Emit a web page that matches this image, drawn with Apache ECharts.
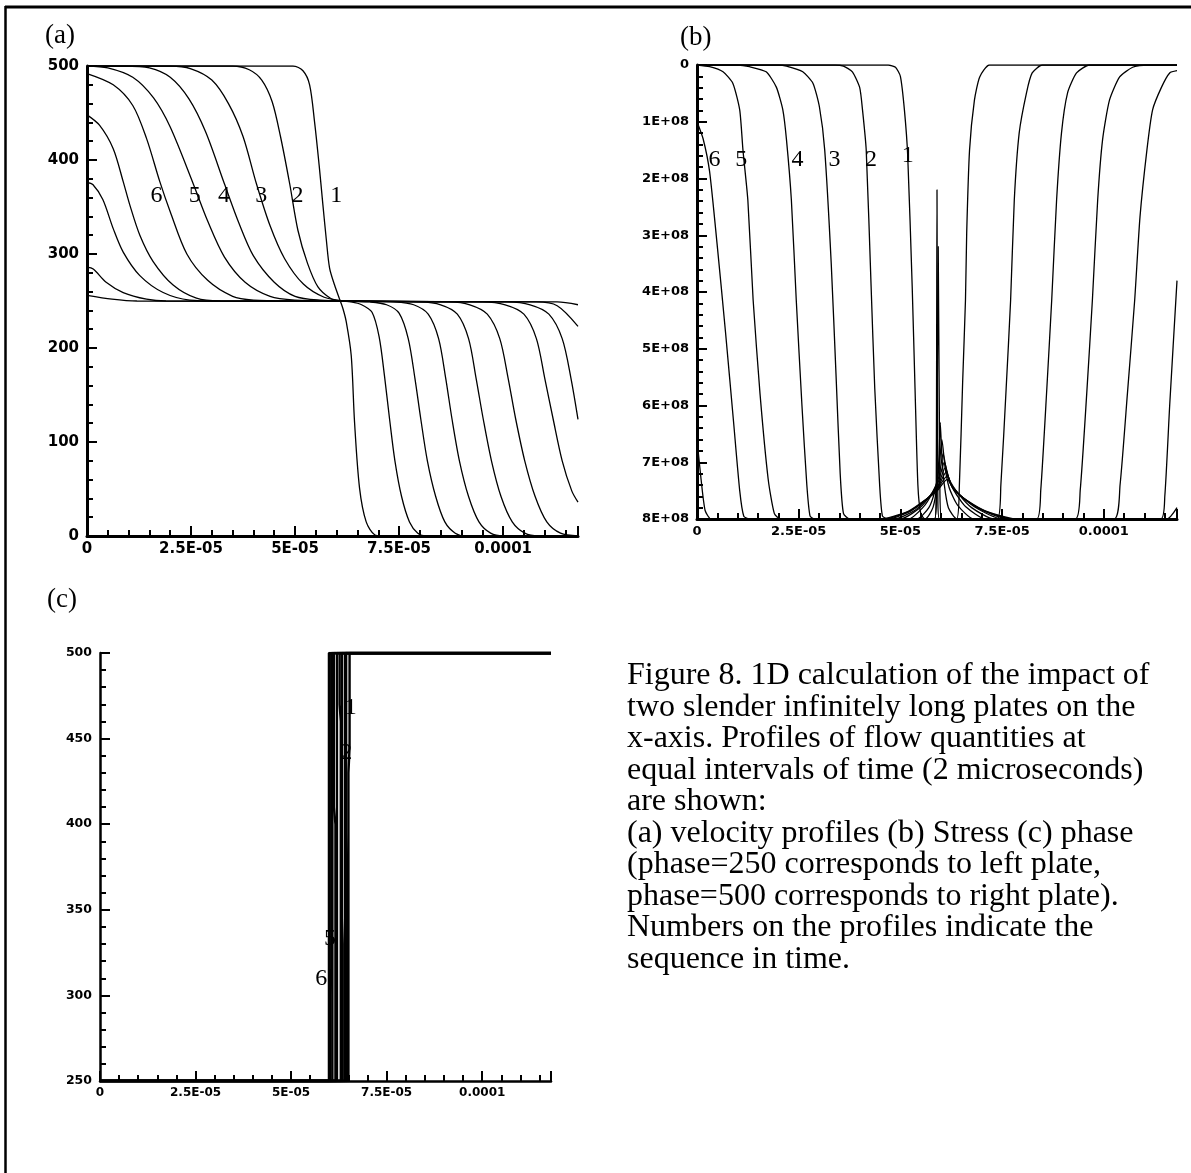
<!DOCTYPE html>
<html>
<head>
<meta charset="utf-8">
<script src="https://cdn.jsdelivr.net/npm/echarts@6.0.0/dist/echarts.min.js"></script>
<style>
  html, body { margin: 0; padding: 0; background: #fff; }
  #chart { width: 1191px; height: 1173px; }
</style>
</head>
<body>
<div id="chart"></div>
<script>
// x positions are stored in units of 1e-5 (axis labels show the real values)
const xMax = 11.8;
const xTickValues = [0, 2.5, 5, 7.5, 10];
const xTickText = ['0', '2.5E-05', '5E-05', '7.5E-05', '0.0001'];
// stress values are stored in units of 1E+08
const stressTickText = ['0', '1E+08', '2E+08', '3E+08', '4E+08', '5E+08', '6E+08', '7E+08', '8E+08'];

// (a) velocity profiles, curve 1 = earliest
const velC1 = [[0,500],[4.95,500],[5.19,495],[5.35,480],[5.47,440],[5.58,394],[5.67,352],[5.75,316],[5.83,285],[5.95,267],[6.07,252],[6.15,242],[6.23,228],[6.35,192],[6.43,121],[6.55,51],[6.71,15],[6.92,1],[7.1,0],[11.8,0]];
const velC2 = [[0,500],[3.5,500],[3.9,496],[4.2,485],[4.45,462],[4.65,425],[4.87,375],[5.07,325],[5.3,290],[5.55,265],[5.85,253],[6.1,250],[6.35,249],[6.6,246],[6.85,238],[7.02,212],[7.15,170],[7.27,125],[7.4,80],[7.56,42],[7.75,15],[7.95,3],[8.15,0],[11.8,0]];
const velC3 = [[0,500],[2.0,500],[2.5,497],[3.0,485],[3.4,460],[3.75,425],[4.07,375],[4.4,330],[4.75,295],[5.2,268],[5.7,254],[6.2,250],[6.8,249],[7.2,246],[7.5,237],[7.72,210],[7.88,168],[8.02,125],[8.18,80],[8.38,42],[8.6,15],[8.85,3],[9.1,0],[11.8,0]];
const velC4 = [[0,500],[0.9,500],[1.5,498],[2.0,488],[2.45,465],[2.85,430],[3.3,375],[3.65,333],[4.0,298],[4.5,270],[5.0,255],[5.6,251],[6.5,250],[7.4,249],[7.85,246],[8.2,236],[8.45,210],[8.62,168],[8.77,125],[8.95,80],[9.17,42],[9.42,15],[9.7,3],[10.0,0],[11.8,0]];
const velC5 = [[0,500],[0.5,498],[1.1,488],[1.6,466],[2.0,435],[2.55,375],[2.9,335],[3.3,297],[3.8,270],[4.4,255],[5.0,251],[6.0,250],[8.0,249],[8.5,246],[8.9,236],[9.17,210],[9.35,168],[9.52,125],[9.72,80],[9.95,42],[10.22,15],[10.52,3],[10.85,0],[11.8,0]];
const velC6 = [[0,492],[0.63,480],[1.1,458],[1.43,423],[1.75,377],[2.0,345],[2.4,300],[2.9,272],[3.5,255],[4.0,251],[5.0,250],[8.7,249],[9.2,246],[9.62,236],[9.92,210],[10.12,168],[10.3,125],[10.52,80],[10.77,42],[11.05,15],[11.38,3],[11.8,0]];
const velC7 = [[0,448],[0.3,437],[0.63,412],[0.87,377],[1.03,352],[1.27,320],[1.59,292],[2.07,267],[2.63,253],[3.2,250],[9.5,249],[10.05,246],[10.5,236],[10.8,210],[11.0,168],[11.2,125],[11.42,80],[11.65,48],[11.8,36]];
const velC8 = [[0,376],[0.14,374],[0.38,358],[0.63,327],[0.87,302],[1.27,277],[1.83,259],[2.47,251],[3.2,250],[10.1,249],[10.65,246],[11.1,236],[11.42,210],[11.63,168],[11.8,124]];
const velC9 = [[0,286],[0.15,284],[0.46,270],[0.87,259],[1.43,252],[1.9,250],[10.8,249],[11.3,245],[11.8,223]];
const velC10 = [[0,256],[0.6,252],[1.2,250],[11.3,249],[11.8,246]];

// (b) stress profiles
const strC1 = [[0,0],[4.7,0],[4.88,0.04],[5.0,0.2],[5.1,0.8],[5.18,1.6],[5.29,3.9],[5.36,5.7],[5.43,7.4],[5.5,7.9],[5.6,8],[5.84,8],[5.88,7.6],[5.9,2.2],[5.92,7.6],[5.96,8],[6.38,8],[6.45,7.4],[6.53,5.6],[6.6,4.14],[6.63,2.96],[6.7,1.5],[6.82,0.62],[6.95,0.21],[7.19,0],[11.8,0]];
const strC2 = [[0,0],[3.4,0],[3.6,0.02],[3.82,0.12],[4.0,0.4],[4.07,0.8],[4.16,1.5],[4.28,3.9],[4.37,5.7],[4.49,7.4],[4.56,7.95],[4.7,8],[5.84,8],[5.89,7.4],[5.93,3.2],[5.97,7.4],[6.02,8],[7.38,8],[7.47,7.4],[7.6,5.7],[7.71,4.14],[7.8,2.38],[7.92,1.2],[8.1,0.49],[8.24,0.14],[8.49,0],[11.8,0]];
const strC3 = [[0,0],[2.0,0],[2.2,0.02],[2.6,0.12],[2.85,0.32],[3.01,0.74],[3.14,1.5],[3.3,3.5],[3.42,5.5],[3.52,7.2],[3.6,7.9],[3.75,8],[5.6,8],[5.8,7.8],[5.9,7.4],[5.95,6.9],[5.98,6.3],[6.02,6.9],[6.08,7.4],[6.18,7.8],[6.4,8],[8.35,8],[8.45,7.5],[8.6,5.7],[8.72,4.14],[8.84,2.38],[8.96,1.2],[9.11,0.49],[9.33,0.14],[9.65,0],[11.8,0]];
const strC4 = [[0,0],[1.0,0],[1.29,0.03],[1.7,0.12],[1.95,0.39],[2.11,0.79],[2.2,1.32],[2.32,2.38],[2.44,4.14],[2.58,6.0],[2.7,7.4],[2.78,7.95],[2.9,8],[5.4,8],[5.7,7.8],[5.85,7.5],[5.95,7.1],[6.02,6.6],[6.1,7.1],[6.2,7.45],[6.4,7.75],[6.8,8],[9.3,8],[9.42,7.5],[9.58,5.8],[9.72,4.14],[9.85,2.38],[9.97,1.32],[10.14,0.62],[10.39,0.21],[10.71,0.04],[11.05,0],[11.8,0]];
const strC5 = [[0,0],[0.31,0.03],[0.64,0.12],[0.88,0.32],[1.05,0.79],[1.13,1.5],[1.25,2.38],[1.38,4.14],[1.55,5.8],[1.75,7.3],[1.9,7.9],[2.05,8],[5.2,8],[5.55,7.8],[5.78,7.55],[5.95,7.25],[6.05,6.85],[6.15,7.2],[6.32,7.5],[6.6,7.78],[7.1,8],[10.25,8],[10.4,7.4],[10.58,5.8],[10.76,4.14],[10.89,2.68],[11.06,1.5],[11.2,0.79],[11.42,0.39],[11.62,0.14],[11.8,0.1]];
const strC6 = [[0,1.0],[0.15,1.3],[0.31,1.88],[0.5,3.2],[0.7,4.7],[0.9,6.3],[1.05,7.5],[1.15,7.95],[1.3,8],[5.0,8],[5.45,7.82],[5.72,7.6],[5.93,7.35],[6.08,7.0],[6.2,7.3],[6.42,7.55],[6.75,7.8],[7.3,8],[11.4,8],[11.5,7.6],[11.62,6.0],[11.8,3.8]];
const strC7 = [[0,6.6],[0.1,7.3],[0.2,7.85],[0.35,8],[4.85,8],[5.35,7.85],[5.65,7.65],[5.92,7.42],[6.1,7.1],[6.24,7.38],[6.5,7.6],[6.9,7.82],[7.5,8],[11.55,8],[11.8,7.8]];
const strC8 = [[0,8],[4.7,8],[5.25,7.86],[5.6,7.68],[5.9,7.47],[6.12,7.18],[6.27,7.43],[6.55,7.63],[7.0,7.84],[7.65,8],[11.8,8]];
const strC9 = [[0,8],[4.6,8],[5.2,7.87],[5.55,7.7],[5.88,7.5],[6.14,7.25],[6.3,7.47],[6.6,7.66],[7.05,7.85],[7.75,8],[11.8,8]];
const strC10 = [[0,8],[4.5,8],[5.15,7.88],[5.5,7.72],[5.87,7.53],[6.15,7.3],[6.33,7.5],[6.65,7.68],[7.1,7.86],[7.85,8],[11.8,8]];

// (c) phase profiles (250 = left plate, 500 = right plate)
const phC1 = [[0,250],[6.5,250],[6.5,430],[6.53,445],[6.53,500],[11.8,500]];
const phC2 = [[0,250],[6.46,250],[6.46,380],[6.44,395],[6.44,500],[11.8,500]];
const phC3 = [[0,250],[6.41,250],[6.41,500],[11.8,500]];
const phC4 = [[0,250],[6.35,250],[6.35,330],[6.33,345],[6.33,500],[11.8,500]];
const phC5 = [[0,250],[6.3,250],[6.3,460],[6.27,470],[6.27,500],[11.8,500]];
const phC6 = [[0,250],[6.2,250],[6.2,500],[11.8,500]];
const phC7 = [[0,250],[6.16,250],[6.16,400],[6.12,410],[6.12,500],[11.8,500]];
const phC8 = [[0,250],[6.08,250],[6.08,500],[11.8,500]];
const phC9 = [[0,250],[6.03,250],[6.03,300],[6.05,315],[6.05,500],[11.8,500]];
const phC10 = [[0,250],[5.99,250],[5.99,500],[11.8,500]];

// curve numbers written on the profiles (text, x, y in data units)
const velLabels = [['6',1.67,362],['5',2.59,362],['4',3.29,362],['3',4.19,362],['2',5.06,362],['1',5.99,362]];
const strLabels = [['6',0.43,1.67],['5',1.09,1.67],['4',2.47,1.67],['3',3.38,1.67],['2',4.28,1.67],['1',5.18,1.6]];
const phLabels = [['1',6.56,468],['2',6.44,442],['5',6.02,333],['6',5.79,310]];

const captionLines = [
  'Figure 8. 1D calculation of the impact of',
  'two slender infinitely long plates on the',
  'x-axis. Profiles of flow quantities at',
  'equal intervals of time (2 microseconds)',
  'are shown:',
  '(a) velocity profiles (b) Stress (c) phase',
  '(phase=250 corresponds to left plate,',
  'phase=500 corresponds to right plate).',
  'Numbers on the profiles indicate the',
  'sequence in time.'
];

const velocityCurves = [velC1, velC2, velC3, velC4, velC5, velC6, velC7, velC8, velC9, velC10];
const stressCurves = [strC1, strC2, strC3, strC4, strC5, strC6, strC7, strC8, strC9, strC10];
const phaseCurves = [phC1, phC2, phC3, phC4, phC5, phC6, phC7, phC8, phC9, phC10];

const ink = '#000';
const tickFont = 'DejaVu Sans';

function xLabel(v) {
  const i = xTickValues.findIndex(t => Math.abs(t - v) < 1e-6);
  return i >= 0 ? xTickText[i] : '';
}

function xAxes(gridIndex, fontSize, width) {
  return [{
    type: 'value', gridIndex, position: 'bottom', min: 0, max: xMax, interval: 2.5,
    axisLine: {onZero: false, lineStyle: {color: ink, width}},
    axisTick: {inside: true, length: 10, lineStyle: {color: ink, width: 2}},
    axisLabel: {formatter: xLabel, color: ink, fontFamily: tickFont, fontWeight: 'bold', fontSize, margin: 6},
    splitLine: {show: false}
  }, {
    type: 'value', gridIndex, position: 'bottom', min: 0, max: xMax, interval: 0.5,
    axisLine: {show: false, onZero: false},
    axisTick: {inside: true, length: 6, lineStyle: {color: ink, width: 2}},
    axisLabel: {show: false},
    splitLine: {show: false}
  }];
}

function yAxis(gridIndex, min, max, interval, fontSize, width, extra) {
  return Object.assign({
    type: 'value', gridIndex, min, max, interval,
    axisLine: {show: true, onZero: false, lineStyle: {color: ink, width}},
    axisTick: {show: true, inside: true, length: 10, lineStyle: {color: ink, width: 2}},
    minorTick: {show: true, splitNumber: 5, length: 6, lineStyle: {color: ink, width: 2}},
    axisLabel: {color: ink, fontFamily: tickFont, fontWeight: 'bold', fontSize, margin: 8},
    splitLine: {show: false}
  }, extra || {});
}

const series = [];
function addCurves(curves, gridIndex, smooth, width) {
  curves.forEach(d => series.push({
    type: 'line', xAxisIndex: gridIndex * 2, yAxisIndex: gridIndex, data: d,
    symbol: 'none', smooth, silent: true,
    lineStyle: {color: ink, width}
  }));
}
addCurves(velocityCurves, 0, 0.3, 1.3);
addCurves(stressCurves, 1, 0.2, 1.3);
addCurves(phaseCurves, 2, false, 2.4);

const frame = [
  {type: 'line', shape: {x1: 5, y1: 7, x2: 1191, y2: 7}, style: {stroke: ink, lineWidth: 3}},
  {type: 'line', shape: {x1: 5.5, y1: 6, x2: 5.5, y2: 1173}, style: {stroke: ink, lineWidth: 2.5}},
  {type: 'text', style: {text: '(a)', x: 45, y: 36, textVerticalAlign: 'middle', font: '27px "Liberation Serif"', fill: ink}},
  {type: 'text', style: {text: '(b)', x: 680, y: 38, textVerticalAlign: 'middle', font: '27px "Liberation Serif"', fill: ink}},
  {type: 'text', style: {text: '(c)', x: 47, y: 600, textVerticalAlign: 'middle', font: '27px "Liberation Serif"', fill: ink}},
  {type: 'text', style: {text: captionLines.join('\n'), x: 627, y: 660, textVerticalAlign: 'top', lineHeight: 31.5, font: '32px "Liberation Serif"', fill: ink}}
];

const chart = echarts.init(document.getElementById('chart'));
chart.setOption({
  animation: false,
  backgroundColor: '#fff',
  grid: [
    {left: 87, top: 66, width: 491, height: 470, outerBoundsMode: 'none'},
    {left: 697, top: 65, width: 480, height: 454, outerBoundsMode: 'none'},
    {left: 100, top: 653, width: 451, height: 428, outerBoundsMode: 'none'}
  ],
  xAxis: [].concat(xAxes(0, 15, 3), xAxes(1, 13, 3), xAxes(2, 12, 2.5)),
  yAxis: [
    yAxis(0, 0, 500, 100, 15, 3),
    yAxis(1, 0, 8, 1, 13, 3, {inverse: true, axisLabel: {color: ink, fontFamily: tickFont, fontWeight: 'bold', fontSize: 13, margin: 8, formatter: v => stressTickText[Math.round(v)]}}),
    yAxis(2, 250, 500, 50, 12.5, 2.5)
  ],
  series
});

// place the curve numbers through the axes' own scales
const numberTexts = [];
[velLabels, strLabels, phLabels].forEach((labels, g) => {
  labels.forEach(l => {
    const p = chart.convertToPixel({xAxisIndex: g * 2, yAxisIndex: g}, [l[1], l[2]]);
    numberTexts.push({type: 'text', z: 100, style: {text: l[0], x: p[0], y: p[1], textAlign: 'center', textVerticalAlign: 'middle', font: '24px "Liberation Serif"', fill: ink}});
  });
});
chart.setOption({graphic: frame.concat(numberTexts)});
</script>
</body>
</html>
